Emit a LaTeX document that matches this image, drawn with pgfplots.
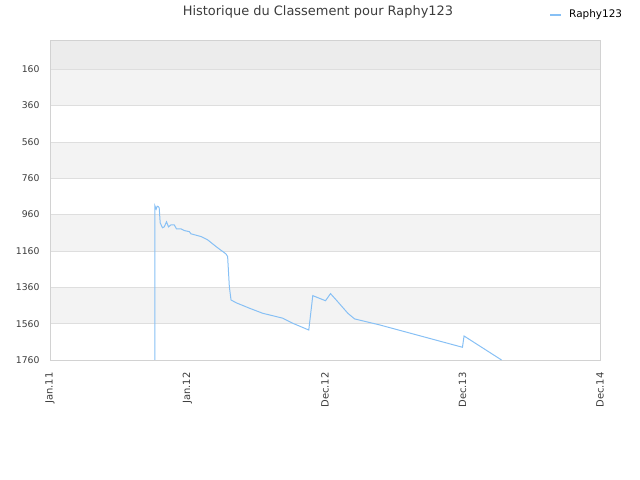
\documentclass[border=0pt]{standalone}
\usepackage{pgfplots}
\pgfplotsset{compat=1.18}
\usepackage{fontspec}
\setmainfont{DejaVu Sans}
\definecolor{linec}{RGB}{135,192,245}
\definecolor{bandA}{RGB}{243,243,243}
\definecolor{bandTop}{RGB}{236,236,236}
\definecolor{gridc}{RGB}{222,222,222}
\definecolor{framec}{RGB}{210,210,210}
\definecolor{textc}{RGB}{60,60,60}
\begin{document}
\begin{tikzpicture}[x=1bp,y=1bp]
\path[use as bounding box] (0,0) rectangle (640,480);
\begin{axis}[
  at={(325bp,280bp)}, anchor=center,
  scale only axis, width=550bp, height=320bp,
  xmin=0, xmax=549, ymin=0, ymax=1760,
  y dir=reverse,
  axis line style={framec},
  xtick={0,137.25,274.5,411.75,549},
  xticklabels={Jan.11,Jan.12,Dec.12,Dec.13,Dec.14},
  x tick label style={rotate=90, anchor=east, font=\fontsize{10}{12}\selectfont, text=textc},
  ytick={160,360,560,760,960,1160,1360,1560,1760},
  y tick label style={font=\fontsize{9.3}{11}\selectfont, text=textc},
  /pgf/number format/assume math mode=true,
  /pgf/number format/1000 sep={},
  major tick length=0pt,
  xticklabel shift=9bp, yticklabel shift=7bp,
  clip=false,
]
\fill[bandTop] (axis cs:0,0) rectangle (axis cs:549,160);
\fill[bandA] (axis cs:0,160) rectangle (axis cs:549,360);
\fill[bandA] (axis cs:0,560) rectangle (axis cs:549,760);
\fill[bandA] (axis cs:0,960) rectangle (axis cs:549,1160);
\fill[bandA] (axis cs:0,1360) rectangle (axis cs:549,1560);
\draw[gridc, line width=0.6pt] (axis cs:0,160) -- (axis cs:549,160);
\draw[gridc, line width=0.6pt] (axis cs:0,360) -- (axis cs:549,360);
\draw[gridc, line width=0.6pt] (axis cs:0,560) -- (axis cs:549,560);
\draw[gridc, line width=0.6pt] (axis cs:0,760) -- (axis cs:549,760);
\draw[gridc, line width=0.6pt] (axis cs:0,960) -- (axis cs:549,960);
\draw[gridc, line width=0.6pt] (axis cs:0,1160) -- (axis cs:549,1160);
\draw[gridc, line width=0.6pt] (axis cs:0,1360) -- (axis cs:549,1360);
\draw[gridc, line width=0.6pt] (axis cs:0,1560) -- (axis cs:549,1560);
\draw[framec, line width=0.6pt] (axis cs:0,0) rectangle (axis cs:549,1760);
\addplot[linec, line width=1pt, mark=none] coordinates {
(104.7,1760) (104.7,912) (106,930) (107,914) (108,916) (109,923) (110,1006)
(112.3,1033) (114,1028) (116.3,1000) (118.3,1028) (120.7,1017) (124,1017)
(126.3,1039) (130.7,1039) (134,1048) (139,1054) (140.7,1066) (150.7,1081)
(157.3,1099) (165.7,1136) (175.7,1177) (177.3,1191) (179,1356) (180.7,1430)
(185.7,1445) (199,1475) (212.3,1503) (232.3,1530) (242.3,1558) (258.3,1595)
(262.3,1406) (275,1434) (280,1395) (285.7,1430) (297.3,1503) (304,1534)
(329,1567) (411.7,1690) (413.3,1628) (450.7,1760)
};
\end{axis}
\node[text=textc, font=\fontsize{13}{15}\selectfont] at (318,468) {Historique du Classement pour Raphy123};
\draw[linec, line width=1.5pt] (550,465) -- (561,465);
\node[anchor=west, font=\fontsize{10.5}{12}\selectfont, inner sep=0pt] at (569,465) {Raphy123};
\end{tikzpicture}
\end{document}
